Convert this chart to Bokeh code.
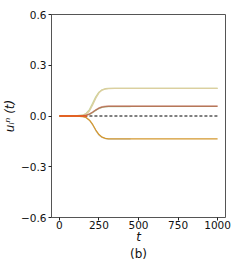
from bokeh.plotting import figure
from bokeh.models import FixedTicker, Range1d, LinearAxis
from bokeh.embed import file_html
from bokeh.resources import INLINE

# time samples (t) and agent trajectories
t = [0, 100, 150, 170, 190, 210, 230, 250, 270, 290, 310, 350, 1000]
u_upper = [0, 0, 0.004, 0.012, 0.03, 0.065, 0.105, 0.137, 0.153, 0.16, 0.162, 0.163, 0.163]
u_upper2 = [0, 0, 0.006, 0.016, 0.038, 0.075, 0.113, 0.141, 0.155, 0.161, 0.163, 0.163, 0.163]
u_mid_pink = [0, 0, 0.002, 0.005, 0.012, 0.024, 0.037, 0.048, 0.055, 0.058, 0.059, 0.06, 0.06]
u_mid_brown = [0, 0, 0.002, 0.005, 0.011, 0.022, 0.035, 0.046, 0.053, 0.056, 0.057, 0.057, 0.057]
u_lower = [0, 0, -0.004, -0.01, -0.025, -0.05, -0.083, -0.11, -0.125, -0.132, -0.135, -0.135, -0.135]

t_short = [0, 100, 150, 170, 190, 210, 230, 250, 270, 290, 310, 350, 450]
u_mid_green = [0, 0, 0.002, 0.004, 0.01, 0.02, 0.033, 0.044, 0.051, 0.054, 0.055, 0.055, 0.055]
u_low_gray = [0, 0, -0.004, -0.01, -0.025, -0.052, -0.086, -0.113, -0.127, -0.133, -0.136, -0.136, -0.136]

t_init = [0, 175]
u_init = [0, 0]
t_ref = [0, 1000]
u_ref = [0, 0]

x_ticks = [0, 250, 500, 750, 1000]
y_ticks = [-0.6, -0.3, 0.0, 0.3, 0.6]
y_labels = {-0.6: "\u22120.6", -0.3: "\u22120.3", 0.0: "0.0", 0.3: "0.3", 0.6: "0.6"}
panel_tag = "(b)"

p = figure(frame_width=174, frame_height=203, output_backend="svg",
           toolbar_location=None, x_range=Range1d(-50, 1050), y_range=Range1d(-0.6, 0.6),
           min_border_left=8, min_border_top=14, min_border_right=7, min_border_bottom=0)
p.background_fill_color = "white"
p.border_fill_color = "white"
p.grid.visible = False
p.outline_line_color = "#555555"
p.outline_line_width = 1

p.line(t_ref, u_ref, line_color="black", line_dash="3 2", line_width=1)
p.line(t_short, u_mid_green, line_color="#bcd8b4", line_width=1.3)
p.line(t_short, u_low_gray, line_color="#cfd6dc", line_width=1.3)
p.line(t, u_upper2, line_color="#c8d49a", line_width=1.3)
p.line(t, u_upper, line_color="#dccf9f", line_width=1.3)
p.line(t, u_mid_pink, line_color="#e4b4ac", line_width=1.3)
p.line(t, u_mid_brown, line_color="#b47858", line_width=1.3)
p.line(t, u_lower, line_color="#d4982e", line_width=1.3)
p.line(t_init, u_init, line_color="#e8521c", line_width=1.5)

for ax in (p.xaxis[0], p.yaxis[0]):
    ax.axis_line_color = None
    ax.major_tick_line_color = "#222222"
    ax.major_tick_in = 0
    ax.major_tick_out = 3
    ax.minor_tick_line_color = None
    ax.major_label_text_font = "DejaVu Sans"
    ax.major_label_text_font_size = "10.5px"
    ax.major_label_text_color = "#111111"
    ax.axis_label_text_font = "DejaVu Sans"
    ax.axis_label_text_font_size = "12px"
    ax.axis_label_text_font_style = "italic"
    ax.axis_label_text_color = "#111111"
    ax.major_label_standoff = 2
    ax.axis_label_standoff = 1

p.xaxis.ticker = FixedTicker(ticks=x_ticks)
p.yaxis.ticker = FixedTicker(ticks=y_ticks)
p.yaxis.major_label_overrides = y_labels
p.xaxis.axis_label = "t"
p.yaxis.axis_label = "u\u1d62\u207f (t)"
p.xaxis.axis_label_standoff = -2
p.xaxis.major_label_standoff = 0

tag_axis = LinearAxis(ticker=FixedTicker(ticks=[]), axis_label=panel_tag,
                      axis_line_color=None, major_tick_line_color=None,
                      minor_tick_line_color=None, major_tick_out=0, major_tick_in=0,
                      major_label_standoff=0, axis_label_standoff=0,
                      axis_label_text_font="DejaVu Sans", axis_label_text_font_size="12px",
                      axis_label_text_font_style="normal", axis_label_text_color="#111111")
p.add_layout(tag_axis, "below")

open("out.html", "w").write(file_html(p, INLINE))
